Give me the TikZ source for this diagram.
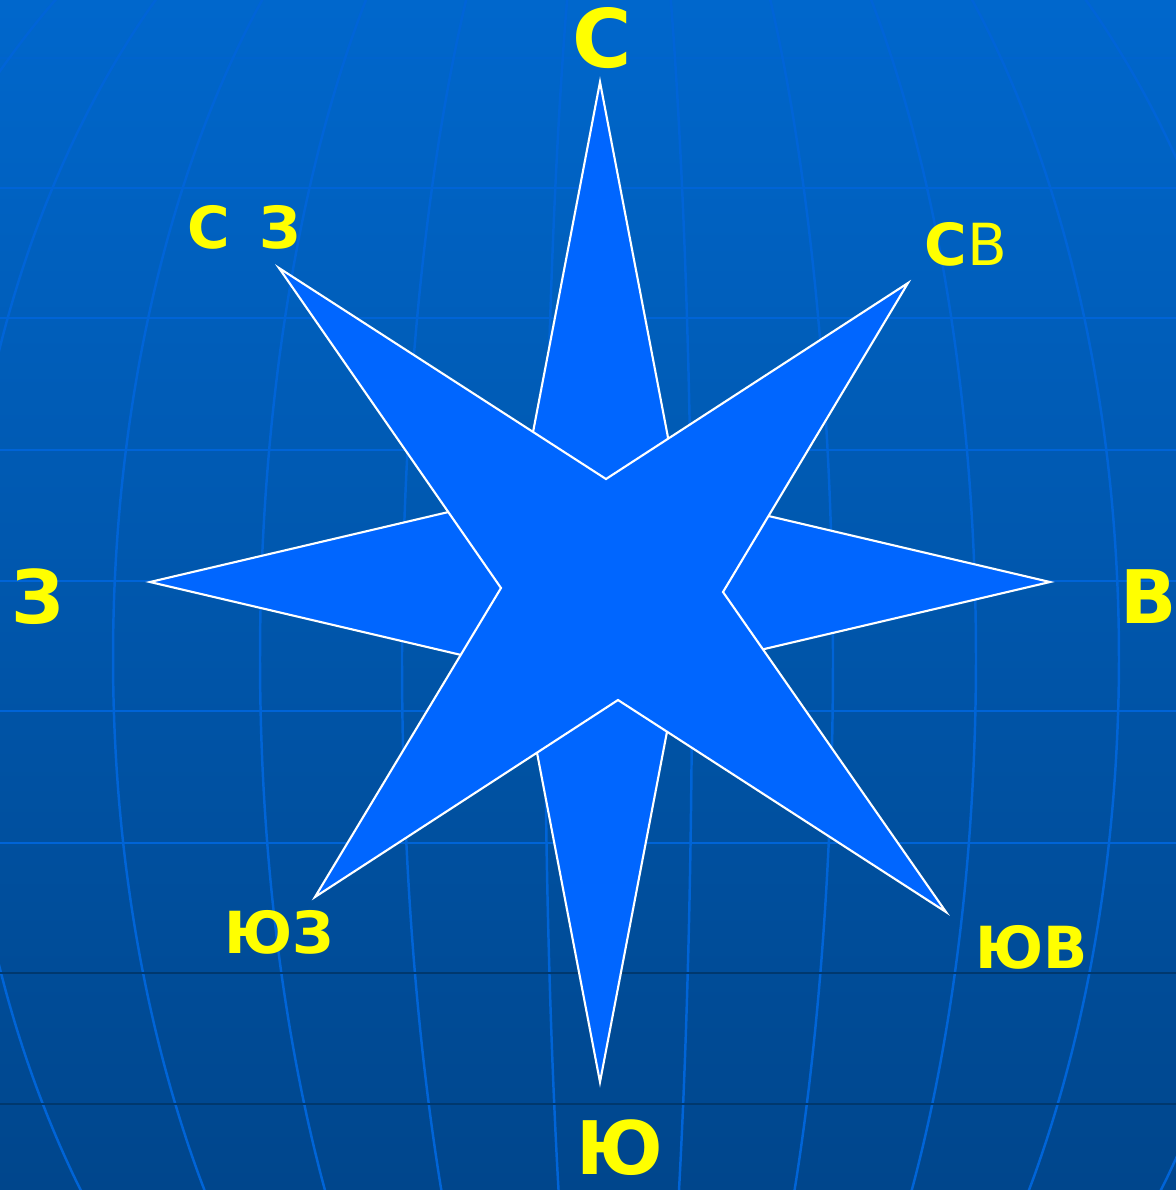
\documentclass[tikz,border=0pt]{standalone}
\usepackage{fontspec}
\setmainfont{DejaVu Sans}
\definecolor{skytop}{RGB}{0,103,204}
\definecolor{skybot}{RGB}{0,70,140}
\definecolor{gridlt}{RGB}{0,100,215}
\definecolor{griddk}{RGB}{0,56,110}
\definecolor{starfill}{RGB}{0,102,255}
\definecolor{labyel}{RGB}{255,255,0}

\begin{document}
\begin{tikzpicture}[
  x=0.01cm, y=-0.01cm,
  card/.style={text=labyel, inner sep=0pt,
               font=\bfseries\fontsize{21}{21}\selectfont},
  inter/.style={text=labyel, inner sep=0pt,
                font=\bfseries\fontsize{16.5}{16.5}\selectfont},
  ray/.style={draw=white, fill=starfill, line width=0.6pt},
  merid/.style={gridlt, line width=0.7pt}
]
\useasboundingbox (0,0) rectangle (1176,1190);
\shade[top color=skytop, bottom color=skybot] (0,0) rectangle (1176,1190);

% globe grid
\begin{scope}
\clip (0,0) rectangle (1176,1190);
\foreach \k in {-800,-658,-507,-360,-218,-75,72,213,356,499,660}
  \draw[merid] plot[domain=-46:36, samples=40, smooth]
    ({620+\k*cos(\x)}, {658+929*sin(\x)});
\draw[gridlt, opacity=0.4, line width=0.8pt] (0,58) -- (1176,58);
\foreach \y in {188,318,450,581,711,843}
  \draw[gridlt, line width=0.8pt] (0,\y) -- (1176,\y);
\foreach \y in {973,1104}
  \draw[griddk, line width=0.8pt] (0,\y) -- (1176,\y);
\end{scope}

% compass rose
\draw[ray] (600,82) -- (679,495) -- (1050,582) -- (679,669) -- (600,1082)
  -- (521,669) -- (150,582) -- (521,495) -- cycle;
\draw[ray] (279,268) -- (606,479) -- (908,283) -- (723,592) -- (946,912)
  -- (618,700) -- (315,897) -- (501,588) -- cycle;

% labels
\node[card, font=\bfseries\fontsize{23}{23}\selectfont] (north) at (602,38) {С};
\node[card] (south) at (620,1148) {Ю};
\node[card] (west)  at (38,597)   {З};
\node[card] (east)  at (1149,597) {В};
\node[inter] (nwest) at (244,227) {С \kern0.15em З};
\node[inter] (neast) at (966,244) {С{\mdseries В}};
\node[inter] (swest) at (279,932) {ЮЗ};
\node[inter] (seast) at (1032,947) {ЮВ};
\end{tikzpicture}
\end{document}
